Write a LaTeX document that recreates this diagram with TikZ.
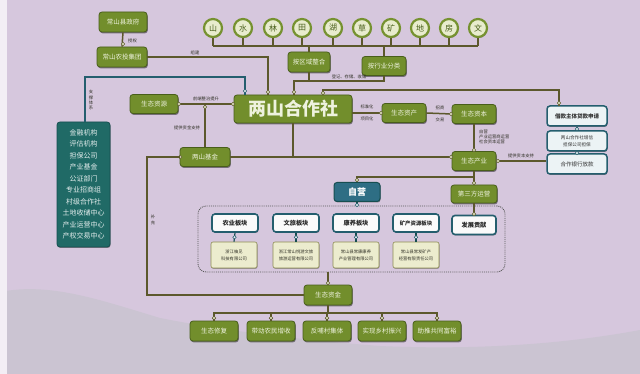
\documentclass[tikz,border=0pt]{standalone}
\usepackage{fontspec}
\setmainfont{Noto Sans CJK SC}
\usetikzlibrary{shadows,calc}
\definecolor{bg}{RGB}{214,199,221}
\definecolor{hill}{RGB}{203,196,210}
\definecolor{gfill}{RGB}{114,142,44}
\definecolor{gdark}{RGB}{72,94,26}
\definecolor{gtext}{RGB}{238,242,222}
\definecolor{cfill}{RGB}{232,236,205}
\definecolor{cring}{RGB}{118,146,48}
\definecolor{lcol}{RGB}{92,88,44}
\definecolor{tfill}{RGB}{32,106,102}
\definecolor{tdark}{RGB}{22,78,80}
\definecolor{bline}{RGB}{36,94,110}
\definecolor{bfill}{RGB}{236,243,245}
\definecolor{zyfill}{RGB}{46,110,132}
\definecolor{cofill}{RGB}{236,236,206}
\definecolor{coline}{RGB}{140,140,82}
\definecolor{ltext}{RGB}{48,48,38}
\tikzset{
  gbox/.style={rectangle, rounded corners=3pt, fill=gfill, draw=gdark, line width=0.8pt,
    text=gtext, font=\fontsize{6.5}{7.5}\selectfont, inner sep=0pt, align=center,
    drop shadow={shadow xshift=0.8pt, shadow yshift=-1.4pt, fill=black, opacity=0.45}},
  circ/.style={circle, fill=cfill, draw=cring, line width=2.2pt, minimum size=18pt,
    inner sep=0pt, text=gdark, font=\fontsize{8}{9}\selectfont,
    drop shadow={shadow xshift=0.6pt, shadow yshift=-1pt, fill=black, opacity=0.4}},
  bbox/.style={rectangle, rounded corners=3pt, fill=bfill, draw=bline, line width=1.5pt,
    text=black!80, font=\fontsize{5.5}{7}\selectfont, inner sep=0pt, align=center,
    drop shadow={shadow xshift=0.6pt, shadow yshift=-1pt, fill=black, opacity=0.4}},
  pbox/.style={rectangle, rounded corners=3pt, fill=white!96!gray, draw=bline, line width=1.6pt,
    text=black!85, font=\bfseries\fontsize{6.2}{7}\selectfont, inner sep=0pt,
    drop shadow={shadow xshift=0.6pt, shadow yshift=-1pt, fill=black, opacity=0.4}},
  cobox/.style={rectangle, rounded corners=2pt, fill=cofill, draw=coline, line width=0.6pt,
    text=ltext, font=\fontsize{4.3}{7}\selectfont, inner sep=0pt, align=center,
    drop shadow={shadow xshift=0.5pt, shadow yshift=-0.8pt, fill=black, opacity=0.3}},
  conn/.style={draw=lcol, line width=1.5pt},
  bconn/.style={draw=bline, line width=1.2pt},
  jd/.style={circle, fill=cfill, draw=lcol, line width=0.6pt, inner sep=0pt, minimum size=3.6pt},
  bd/.style={circle, fill=bfill, draw=bline, line width=0.6pt, inner sep=0pt, minimum size=3.4pt},
  lbl/.style={text=ltext, font=\fontsize{4.3}{5.3}\selectfont, inner sep=0pt, align=center},
  dotbox/.style={draw=black!65, densely dotted, line width=0.9pt, rounded corners=8pt, inner sep=0pt}
}
\begin{document}
\begin{tikzpicture}[x=1pt,y=-1pt]
\useasboundingbox (0,0) rectangle (640,374);
\fill[bg] (0,0) rectangle (640,374);
\fill[hill] (0,374) -- (0,292) .. controls (50,282) and (100,300) .. (160,318)
  .. controls (220,330) and (300,340) .. (380,346) .. controls (470,350) and (560,345) .. (640,330)
  -- (640,374) -- cycle;
\fill[white!70!bg] (0,0) rectangle (7,374);

% circles
\foreach \t/\x [count=\i] in {山/213,水/243,林/273,田/302,湖/333,草/362,矿/391,地/420,房/449,文/478}
  \node[circ] (c\i) at (\x,28) {\t};
\coordinate (busL) at (213,46);
\coordinate (busR) at (478,46);
\draw[conn] (busL) -- (busR);
\foreach \i in {1,...,10} \draw[conn] (c\i.south) -- (c\i.south |- busL);

% top-left
\node[gbox, minimum width=48pt, minimum height=20pt] (gov) at (123,22) {常山县政府};
\node[gbox, minimum width=50pt, minimum height=20pt] (grp) at (122,57) {常山农投集团};
\draw[conn] (gov.south) -- (grp.north);
\node[jd] (d1) at (123,44) {};
\node[lbl, anchor=west] (l1) at (128,41) {授权};

% main node
\node[gbox, minimum width=118pt, minimum height=28pt, font=\bfseries\fontsize{18}{20}\selectfont] (hz) at (293,109) {两山合作社};
\coordinate (hzA) at (268,95);
\draw[conn] (grp.east) -| (hzA);
\node[lbl] (l2) at (195,53) {组建};
\node[jd] (d2) at (268,92) {};

% integration boxes
\node[gbox, minimum width=42pt, minimum height=20pt] (qy) at (309,62) {按区域整合};
\node[gbox, minimum width=44pt, minimum height=19pt] (hy) at (384,66) {按行业分类};
\draw[conn] (qy.north) -- (qy.north |- busL);
\draw[conn] (hy.north) -- (hy.north |- busL);
\coordinate (jA) at (294,81);
\draw[conn] (qy.south) -- (qy.south |- jA);
\draw[conn] (hy.south) |- (jA) -- (jA |- hz.north);
\node[jd] (d3) at (294,92) {};
\node[lbl] (l3) at (349,77) {登记、存储、收储};

% support system
\node[rectangle, rounded corners=3pt, fill=tfill, draw=tdark, line width=0.8pt, text=white!88!tfill,
  font=\fontsize{7}{11.5}\selectfont, align=center, minimum width=53pt, minimum height=125pt, inner sep=0pt,
  drop shadow={shadow xshift=0.6pt, shadow yshift=-1pt, fill=black, opacity=0.4}] (lst) at (83.5,184.5)
  {金融机构\\评估机构\\担保公司\\产业基金\\公证部门\\专业招商组\\村级合作社\\土地收储中心\\产业运营中心\\产权交易中心};
\coordinate (sA) at (85,77);
\coordinate (hzB) at (245,95);
\draw[bconn] (lst.north -| sA) -- (sA) -| (hzB);
\node[bd] (d4) at (245,91) {};
\node[lbl] (l4) at (91,100) {支\\撑\\体\\系};

% ecological resources and fund
\node[gbox, minimum width=48pt, minimum height=19pt] (stzy) at (154,104) {生态资源};
\draw[conn] (stzy.east) -- (stzy.east -| hz.west);
\node[lbl] (l5) at (206,99) {前端整治提升};
\node[jd] (d5) at (179,104) {};
\node[jd] (d6) at (233,104) {};
\node[gbox, minimum width=50pt, minimum height=19pt] (lsj) at (205,157) {两山基金};
\draw[conn] (lsj.north) -- (lsj.north |- stzy.east);
\node[jd] (d7) at (205,107) {};
\node[lbl] (l6) at (187,128) {提供资金支持};

% assets / capital / industry
\node[gbox, minimum width=44pt, minimum height=19pt] (zc) at (404,113) {生态资产};
\node[gbox, minimum width=44pt, minimum height=19pt] (zb) at (474,114) {生态资本};
\node[gbox, minimum width=44pt, minimum height=19pt] (cy) at (474,161) {生态产业};
\draw[conn] (zc.west -| hz.east) -- (zc.west);
\node[jd] (d8) at (381,113) {};
\node[lbl] (l7) at (367,107) {标准化};
\node[lbl] (l8) at (367,119) {项目化};
\draw[conn] (zc.east) -- (zb.west);
\node[jd] (d9) at (451,114) {};
\node[lbl] (l9) at (440,108) {招商};
\node[lbl] (l10) at (440,120) {交易};
\draw[conn] (zb.south) -- (cy.north);
\node[jd] (d10) at (474,150) {};
\node[lbl, anchor=west, align=left] (l11) at (479,137) {自营\\产业运营商运营\\社会资本运营};

% main horizontal
\draw[conn] (lsj.east) -- (lsj.east -| cy.west);
\draw[conn] (hz.south) -- (hz.south |- lsj.east);
\node[jd] (d11) at (451,157) {};
\node[jd] (d12) at (180,157) {};

% loans
\node[bbox, minimum width=60pt, minimum height=20pt, font=\bfseries\fontsize{5.5}{7}\selectfont] (jk) at (577,116) {借款主体贷款申请};
\node[bbox, minimum width=60pt, minimum height=20pt, font=\fontsize{4.6}{6.5}\selectfont] (db) at (577,141) {两山合作社增信\\担保公司担保};
\node[bbox, minimum width=60pt, minimum height=20pt] (fk) at (577,164) {合作银行放款};
\draw[bconn] (jk.south) -- (db.north);
\draw[bconn] (db.south) -- (fk.north);
\node[bd] (d13) at (577,129) {};
\node[bd] (d14) at (577,153) {};
\coordinate (hzC) at (323,95);
\coordinate (lA) at (323,90);
\coordinate (jkA) at (559,106);
\draw[conn] (hzC) -- (lA) -| (jkA);
\node[jd] (d15) at (559,103) {};
\node[jd] (d16) at (323,93) {};
\draw[conn] (cy.east) -- (cy.east -| fk.west);
\node[jd] (d17) at (498,161) {};
\node[lbl] (l12) at (521,156) {提供资本支持};

% operation modes
\node[rectangle, rounded corners=3pt, fill=zyfill, draw=tdark, line width=1pt, text=white,
  font=\bfseries\fontsize{9}{10}\selectfont, minimum width=46pt, minimum height=19pt, inner sep=0pt,
  drop shadow={shadow xshift=0.6pt, shadow yshift=-1pt, fill=black, opacity=0.4}] (zy) at (357,192) {自营};
\node[gbox, minimum width=46pt, minimum height=18pt] (dsf) at (474,194) {第三方运营};
\node[pbox, minimum width=44pt, minimum height=19pt] (fz) at (474,225) {发展贡献};
\draw[conn] (cy.south) -- (dsf.north);
\coordinate (brA) at (474,177);
\draw[conn] (brA) -| (zy.north);
\node[jd] (d18) at (357,180) {};
\node[jd] (d19) at (474,183) {};
\draw[conn] (dsf.south) -- (fz.north);
\node[jd] (d20) at (474,214) {};

% dotted group
\node[dotbox, minimum width=307pt, minimum height=66pt] (gbx) at (351.5,239) {};
\draw[bconn, draw=tdark] (zy.south) -- (zy.south |- gbx.north);
\node[bd] (d21) at (357,205) {};

\node[pbox, minimum width=46pt, minimum height=18pt] (b1) at (235,223) {农业板块};
\node[pbox, minimum width=46pt, minimum height=18pt] (b2) at (296,223) {文旅板块};
\node[pbox, minimum width=46pt, minimum height=18pt] (b3) at (356,223) {康养板块};
\node[pbox, minimum width=46pt, minimum height=18pt, font=\bfseries\fontsize{5.4}{7}\selectfont] (b4) at (416,223) {矿产资源板块};
\node[cobox, minimum width=46pt, minimum height=26pt] (co1) at (234,255) {浙江柚见\\科技有限公司};
\node[cobox, minimum width=46pt, minimum height=26pt] (co2) at (296,255) {浙江常山悦游文旅\\旅游运营有限公司};
\node[cobox, minimum width=46pt, minimum height=26pt] (co3) at (356,255) {常山县常康康养\\产业管理有限公司};
\node[cobox, minimum width=46pt, minimum height=26pt] (co4) at (416,255) {常山县常发矿产\\经营有限责任公司};
\foreach \i in {1,...,4} {
  \draw[bconn, draw=tdark] (b\i.south) -- (co\i.north);
  \node[bd] (e\i) at ($(b\i.south)!0.5!(co\i.north)$) {};
}

% ecological funds
\node[gbox, minimum width=48pt, minimum height=20pt] (zj) at (328,295) {生态资金};
\draw[conn] (gbx.south -| zj.north) -- (zj.north);
\node[jd] (d22) at (328,283) {};
\coordinate (bA) at (147,295);
\draw[conn] (lsj.west) -| (bA) -- (zj.west);
\node[lbl] (l13) at (153,220) {补\\充};

\node[gbox, minimum width=48pt, minimum height=20pt] (o1) at (214,331) {生态修复};
\node[gbox, minimum width=48pt, minimum height=20pt] (o2) at (271,331) {带动农民增收};
\node[gbox, minimum width=48pt, minimum height=20pt] (o3) at (327,331) {反哺村集体};
\node[gbox, minimum width=48pt, minimum height=20pt] (o4) at (382,331) {实现乡村振兴};
\node[gbox, minimum width=48pt, minimum height=20pt] (o5) at (437,331) {助推共同富裕};
\coordinate (bus2) at (0,313);
\draw[conn] (o1.north) -- (o1.north |- bus2) -- (o5.north |- bus2) -- (o5.north);
\foreach \i in {2,3,4} \draw[conn] (o\i.north) -- (o\i.north |- bus2);
\draw[conn] (zj.south) -- (zj.south |- bus2);
\foreach \i in {1,...,5} \node[jd] (f\i) at ($(o\i.north)+(0,-2.5)$) {};
\end{tikzpicture}
\end{document}
